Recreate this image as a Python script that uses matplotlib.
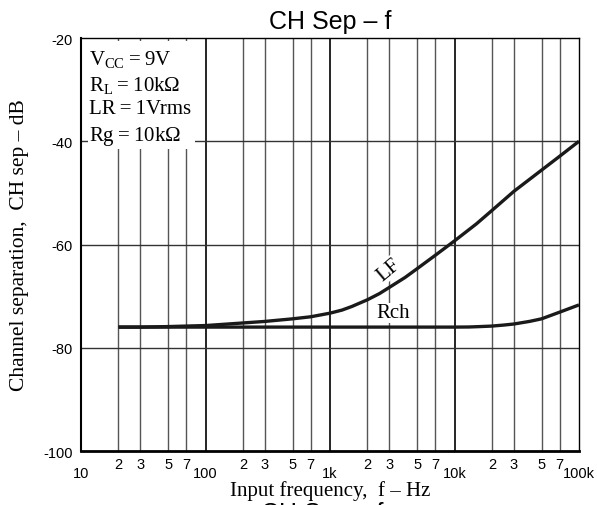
import numpy as np
import matplotlib
matplotlib.use("Agg")
import matplotlib.pyplot as plt
from matplotlib.patches import Rectangle

# values
freq_lf = [20, 30, 50, 70, 100, 200, 300, 500, 700, 1000, 1250, 1500, 2000, 2500,
           3000, 4000, 5000, 7000, 10000, 15000, 20000, 30000, 50000, 70000, 100000]
sep_lf = [-76.0, -76.0, -75.9, -75.8, -75.7, -75.2, -74.9, -74.4, -74.0, -73.3,
          -72.7, -72.0, -70.7, -69.5, -68.3, -66.4, -64.7, -62.1, -59.3, -56.0,
          -53.4, -49.7, -45.6, -42.9, -40.0]
freq_rch = [20, 100, 1000, 10000, 13000, 16000, 20000, 25000, 30000, 40000,
            50000, 70000, 100000]
sep_rch = [-76.0, -76.0, -76.0, -76.0, -75.98, -75.9, -75.8, -75.6, -75.4, -74.9,
           -74.4, -73.1, -71.7]

decades = [10, 100, 1000, 10000, 100000]
decade_labels = ["10", "100", "1k", "10k", "100k"]
minor_mult = [2, 3, 5, 7]
y_ticks = [-20, -40, -60, -80, -100]
conditions = ["$\\mathregular{V_{CC}}$\u2009=\u20099V",
              "$\\mathregular{R_L}$\u2009=\u200910k$\\mathregular{\\Omega}$",
              "LR\u2009=\u20091Vrms",
              "Rg\u2009=\u200910k$\\mathregular{\\Omega}$"]

sans = "Liberation Sans"
serif = "Liberation Serif"
plt.rcParams["mathtext.fontset"] = "custom"
plt.rcParams["mathtext.rm"] = serif
plt.rcParams["mathtext.it"] = serif

fig = plt.figure(figsize=(5.97, 5.06), dpi=100)
ax = fig.add_axes([81 / 597, 1 - 452 / 506, 498 / 597, 413 / 506])
ax.set_xscale("log")
ax.set_xlim(10, 100000)
ax.set_ylim(-100, -20)

minor_pos = [d * m for d in decades[:-1] for m in minor_mult]

for x in minor_pos:
    ax.axvline(x, color="#555555", lw=1.0, zorder=1)
for x in decades[1:-1]:
    ax.axvline(x, color="black", lw=1.2, zorder=1)
for y in [-40, -60, -80]:
    ax.axhline(y, color="#333333", lw=1.0, zorder=1)

# white box behind the test conditions
ax.add_patch(Rectangle((7 / 498, 1 - 111 / 413), 107 / 498, 108 / 413,
                       transform=ax.transAxes, facecolor="white",
                       edgecolor="none", zorder=2))
for i, line in enumerate(conditions):
    ax.text(8 / 498, 1 - (10 + i * 25.5) / 413, line, transform=ax.transAxes,
            fontfamily=serif, fontsize=15, va="top", ha="left", zorder=4)

ax.plot(freq_lf, sep_lf, color="#1a1a1a", lw=2.4, zorder=3, solid_capstyle="butt")
ax.plot(freq_rch, sep_rch, color="#1a1a1a", lw=2.4, zorder=3, solid_capstyle="butt")

ax.text(2950, -64.8, "LF", fontfamily=serif, fontsize=15, rotation=40,
        ha="center", va="center", zorder=4,
        bbox=dict(facecolor="white", edgecolor="none", pad=0.3))
ax.text(3200, -73.2, "Rch", fontfamily=serif, fontsize=15,
        ha="center", va="center", zorder=4,
        bbox=dict(facecolor="white", edgecolor="none", pad=0.3))

# ticks and labels
ax.set_xticks(decades)
ax.set_xticklabels(decade_labels, fontfamily=sans, fontsize=10.5)
ax.set_xticks(minor_pos, minor=True)
ax.set_xticklabels([str(m) for d in decades[:-1] for m in minor_mult],
                   minor=True, fontfamily=sans, fontsize=10.5)
ax.tick_params(axis="x", which="major", length=0, pad=11)
ax.tick_params(axis="x", which="minor", length=0, pad=4)
ax.set_yticks(y_ticks)
ax.set_yticklabels([str(v) for v in y_ticks], fontfamily=sans, fontsize=10.5)
ax.tick_params(axis="y", length=0, pad=6)

for side in ["top", "right"]:
    ax.spines[side].set_linewidth(1.0)
ax.spines["left"].set_linewidth(1.5)
ax.spines["bottom"].set_linewidth(2.0)

ax.set_title("CH Sep – f", fontfamily=sans, fontsize=18, pad=7)
ax.set_xlabel("Input frequency,  f – Hz", fontfamily=serif, fontsize=15, labelpad=0)
ax.set_ylabel("Channel separation,  CH sep – dB", fontfamily=serif, fontsize=15.5, labelpad=10)

# the next chart's title, cut by the bottom edge as in the reference
fig.text(0.54, 1 - 502 / 506, "CH Sep – f", fontfamily=sans, fontsize=18,
         ha="center", va="top")

fig.savefig("out.png", dpi=100, facecolor="white")
